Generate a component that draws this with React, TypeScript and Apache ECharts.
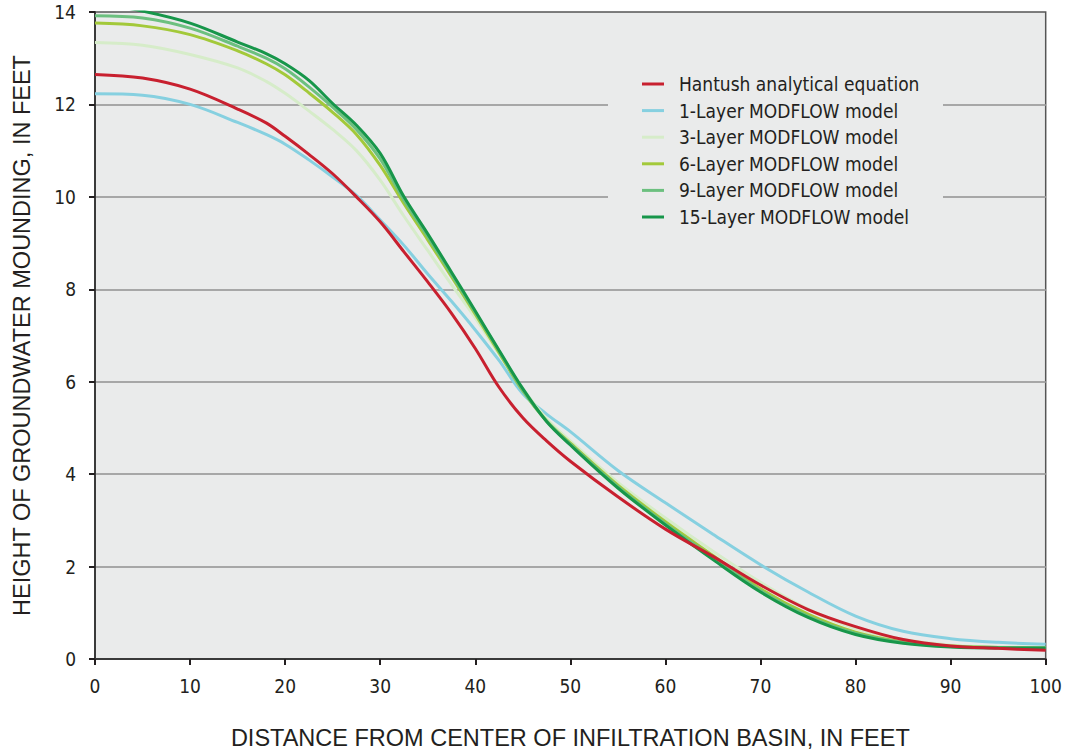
import React, { useEffect, useRef } from "react";
import * as echarts from "echarts";

const distance = [0, 5, 10, 15, 18, 20, 22.5, 25, 27.5, 30, 32.5, 35, 37.5, 40, 42.5, 45, 47.5, 50, 55, 60, 65, 70, 75, 80, 85, 90, 95, 100];

const hantush = [12.65, 12.57, 12.33, 11.9, 11.6, 11.31, 10.92, 10.5, 10.0, 9.46, 8.81, 8.16, 7.48, 6.72, 5.88, 5.22, 4.72, 4.28, 3.51, 2.81, 2.22, 1.6, 1.07, 0.7, 0.42, 0.28, 0.23, 0.19];
const layer1 = [12.23, 12.2, 12.0, 11.61, 11.35, 11.14, 10.8, 10.43, 10.03, 9.5, 8.95, 8.33, 7.74, 7.12, 6.46, 5.74, 5.3, 4.92, 4.08, 3.38, 2.7, 2.04, 1.45, 0.93, 0.6, 0.44, 0.36, 0.32];
const layer3 = [13.34, 13.28, 13.08, 12.79, 12.5, 12.24, 11.86, 11.46, 11.0, 10.36, 9.58, 8.84, 8.1, 7.38, 6.6, 5.85, 5.2, 4.72, 3.82, 3.05, 2.33, 1.66, 1.08, 0.66, 0.42, 0.3, 0.26, 0.25];
const layer6 = [13.76, 13.7, 13.51, 13.16, 12.88, 12.64, 12.25, 11.83, 11.35, 10.68, 9.85, 9.07, 8.27, 7.46, 6.63, 5.8, 5.15, 4.67, 3.76, 2.97, 2.24, 1.52, 0.97, 0.58, 0.37, 0.28, 0.25, 0.24];
const layer9 = [13.92, 13.87, 13.65, 13.26, 13.0, 12.77, 12.38, 11.94, 11.46, 10.82, 9.93, 9.14, 8.32, 7.5, 6.66, 5.82, 5.15, 4.65, 3.73, 2.93, 2.2, 1.48, 0.93, 0.56, 0.36, 0.27, 0.25, 0.24];
const layer15 = [14.2, 14.02, 13.76, 13.35, 13.1, 12.88, 12.52, 12.02, 11.55, 10.94, 10.0, 9.2, 8.37, 7.53, 6.68, 5.85, 5.14, 4.63, 3.7, 2.9, 2.15, 1.45, 0.9, 0.53, 0.34, 0.26, 0.24, 0.24];

const seriesNames = [
  "Hantush analytical equation",
  "1-Layer MODFLOW model",
  "3-Layer MODFLOW model",
  "6-Layer MODFLOW model",
  "9-Layer MODFLOW model",
  "15-Layer MODFLOW model",
];
const seriesValues = [hantush, layer1, layer3, layer6, layer9, layer15];
const seriesColors = ["#c8202f", "#86d0e0", "#d6ecc9", "#a3c93a", "#6cc07f", "#17964a"];
const seriesZ = [4, 2, 2, 2, 2, 3];

const xTicks = { min: 0, max: 100, interval: 10 };
const yTicks = { min: 0, max: 14, interval: 2 };

const xTitle = "DISTANCE FROM CENTER OF INFILTRATION BASIN, IN FEET";
const yTitle = "HEIGHT OF GROUNDWATER MOUNDING, IN FEET";

const narrow = "'DejaVu Sans Condensed', 'Liberation Sans Narrow', 'Liberation Sans', sans-serif";
const wide = "'Liberation Sans', Arial, sans-serif";
const ink = "#231f20";
const plotBg = "#eaebeb";

export default function App() {
  const ref = useRef<HTMLDivElement>(null);
  useEffect(() => {
    if (!ref.current) return;
    const chart = echarts.init(ref.current, undefined, { renderer: "svg" });
    chart.setOption({
      animation: false,
      backgroundColor: "#ffffff",
      grid: {
        left: 95,
        right: 16,
        top: 12,
        bottom: 91,
        show: true,
        backgroundColor: plotBg,
        borderColor: "#555555",
        borderWidth: 1.5,
      },
      graphic: [
        {
          type: "rect",
          z: 1,
          shape: { x: 608, y: 60, width: 335, height: 172 },
          style: { fill: plotBg },
        },
      ],
      legend: {
        orient: "vertical",
        left: 642,
        top: 74,
        padding: 0,
        itemGap: 6.6,
        itemWidth: 22,
        itemHeight: 3,
        icon: "rect",
        z: 5,
        data: seriesNames,
        textStyle: {
          color: ink,
          fontSize: 19,
          lineHeight: 20,
          fontFamily: narrow,
          padding: [0, 0, 0, 10],
        },
      },
      xAxis: {
        type: "value",
        min: xTicks.min,
        max: xTicks.max,
        interval: xTicks.interval,
        name: xTitle,
        nameLocation: "middle",
        nameGap: 67,
        nameTextStyle: { color: ink, fontSize: 23.5, fontFamily: wide },
        axisLine: { show: true, onZero: false, lineStyle: { color: "#3a3a3a", width: 2 } },
        axisTick: { show: true, length: 6, lineStyle: { color: "#231f20", width: 2 } },
        axisLabel: { color: ink, fontSize: 19, fontFamily: narrow, margin: 17 },
        splitLine: { show: false },
      },
      yAxis: {
        type: "value",
        min: yTicks.min,
        max: yTicks.max,
        interval: yTicks.interval,
        name: yTitle,
        nameLocation: "middle",
        nameGap: 61,
        nameTextStyle: { color: ink, fontSize: 23.5, fontFamily: wide },
        axisLine: { show: true, onZero: false, lineStyle: { color: "#3a3a3a", width: 2 } },
        axisTick: { show: true, length: 6, lineStyle: { color: "#231f20", width: 2 } },
        axisLabel: { color: ink, fontSize: 19, fontFamily: narrow, margin: 19 },
        splitLine: {
          show: true,
          showMinLine: false,
          showMaxLine: false,
          lineStyle: { color: "#a7a7a7", width: 2 },
        },
      },
      series: seriesNames.map((name, i) => ({
        name,
        type: "line",
        data: distance.map((d, j) => [d, seriesValues[i][j]]),
        smooth: 0.35,
        showSymbol: false,
        symbol: "none",
        clip: true,
        z: seriesZ[i],
        color: seriesColors[i],
        lineStyle: { color: seriesColors[i], width: 3 },
      })),
    });
    return () => chart.dispose();
  }, []);
  return (
    <div
      ref={ref}
      style={{ position: "absolute", left: 0, top: 0, width: 1065, height: 755 }}
    />
  );
}
